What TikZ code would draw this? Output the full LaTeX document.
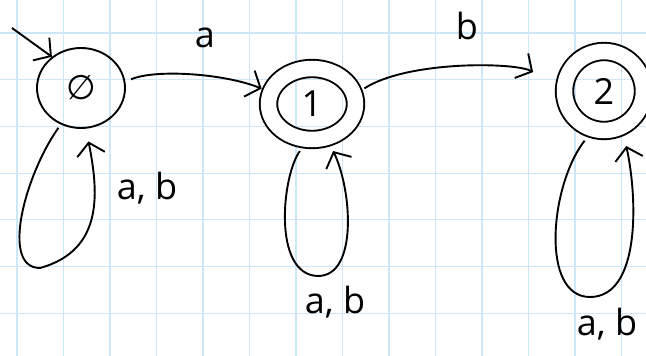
\documentclass[tikz,border=0pt]{standalone}
\usepackage{fontspec}
\setmainfont{Open Sans}
\newfontfamily\symbolfont{DejaVu Sans}
\usetikzlibrary{shapes.geometric,arrows.meta}
\definecolor{gridblue}{RGB}{205,230,248}

\tikzset{
  state/.style={ellipse, draw, line width=1.9pt, inner sep=0pt, font=\fontsize{36}{40}\selectfont},
  accepting/.style={double, double distance=15.5pt, outer sep=10pt},
  trans/.style={-{Straight Barb[length=12pt,width=28pt]}, line width=1.9pt},
  lbl/.style={inner sep=0pt, font=\fontsize{36}{40}\selectfont},
}

\begin{document}
\begin{tikzpicture}[x=1pt,y=1pt]
  % paper with grid
  \fill[white] (0,0) rectangle (646,-356);
  \useasboundingbox (0,0) rectangle (646,-356);
  \foreach \gx in {0,...,13}
    \draw[gridblue, line width=1.2pt] ({17+46.5*\gx},0) -- ++(0,-356);
  \foreach \gy in {0,...,6}
    \draw[gridblue, line width=1.2pt] (0,{-33-46.7*\gy}) -- ++(646,0);

  % states
  \node[state, minimum width=88pt, minimum height=80pt] (s0) at (81,-88) {\symbolfont\fontsize{34}{38}\selectfont ∅};
  \node[state, accepting, minimum width=87pt, minimum height=71pt] (s1) at (312,-104) {1};
  \node[state, accepting, minimum width=79pt, minimum height=79pt] (s2) at (604,-91) {2};

  % initial arrow
  \coordinate (init) at (12,-28);
  \draw[trans] (init) -- (s0.133);

  % transitions
  \draw[trans, shorten <=6pt] (s0.8) .. controls +(30,13) and +(-37,15) .. (s1.163);
  \draw[trans, shorten <=2pt, shorten >=25pt] (s1.16) .. controls +(45,29) and +(-40,22) .. (s2.172);

  % self loops
  \draw[trans, shorten <=4pt, shorten >=13pt] (s0.241) .. controls (25,-175) and (0,-268) .. (40,-268)
    .. controls (105,-250) and (98,-190) .. (s0.277);
  \draw[trans, shorten <=3pt, shorten >=5pt] (s1.257) .. controls (282,-175) and (272,-275) .. (318,-276)
    .. controls (358,-276) and (352,-190) .. (s1.294);
  \draw[trans, shorten <=4pt, shorten >=10pt] (s2.250) .. controls (550,-185) and (540,-297) .. (590,-297)
    .. controls (640,-297) and (638,-200) .. (s2.294);

  % labels
  \node[lbl] (la) at (205,-38) {a};
  \node[lbl] (lb) at (467,-26) {b};
  \node[lbl] (l0) at (147,-188) {a, b};
  \node[lbl] (l1) at (335,-302) {a, b};
  \node[lbl] (l2) at (607,-324) {a, b};
\end{tikzpicture}
\end{document}
